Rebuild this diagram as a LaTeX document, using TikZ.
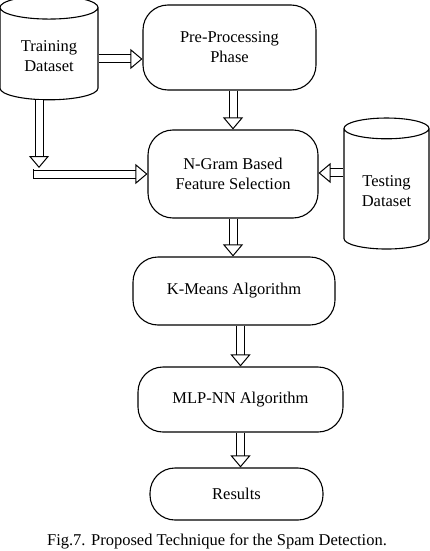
\documentclass[tikz,border=0pt]{standalone}
\usepackage{fontspec}
\setmainfont{Liberation Serif}
\usepackage{tikz}
\usetikzlibrary{positioning,arrows.meta,calc,shapes.geometric}
\tikzset{
 flowbox/.style={draw, line width=1.1pt, rounded corners=25pt, align=center},
 store/.style={draw, line width=1.1pt, cylinder, shape border rotate=90, shape aspect=0.37, align=center},
 hollow/.style={double, double distance=7pt, line width=1pt, -{Triangle[open, length=12pt, width=20pt]}},
}

\begin{document}
\begin{tikzpicture}[x=1pt, y=-1pt, font=\fontsize{16.5}{20}\selectfont]
\useasboundingbox (0,0) rectangle (430,551);
\node[store, minimum width=98pt, minimum height=104pt] (train) at (49,56) {Training\\Dataset};
\node[flowbox, minimum width=173pt, minimum height=85pt] (pre) at (229.5,47.5) {Pre-Processing\\Phase};
\node[flowbox, minimum width=170pt, minimum height=88pt] (ngram) at (233,174) {N-Gram Based\\Feature Selection};
\node[store, minimum width=85pt, minimum height=131pt] (test) at (386.5,191) {Testing\\Dataset};
\node[flowbox, minimum width=202pt, minimum height=68pt] (kmeans) at (234,291) {K-Means Algorithm};
\node[flowbox, minimum width=205pt, minimum height=65pt] (mlp) at (240.5,399.5) {MLP-NN Algorithm};
\node[flowbox, minimum width=173pt, minimum height=52pt] (res) at (236.5,494) {Results};
\node (cap) at (217,541) {Fig.7. Proposed Technique for the Spam Detection.};
\coordinate (bend) at (39,168);
\coordinate (join) at (33,174);
\draw[hollow] ([yshift=-3pt]train.center -| train.east) -- ([yshift=-3pt]train.center -| pre.west);
\draw[hollow] (pre.south -| ngram.north) -- (ngram.north);
\draw[hollow] ([xshift=-10pt]train.south) -- (bend);
\draw[hollow] (join) -- (join -| ngram.west);
\draw[line width=1pt] ([yshift=5pt]join) -- ([yshift=-5pt]join);
\draw[hollow] ([yshift=18pt]test.west) -- ([yshift=18pt]test.west -| ngram.east);
\draw[hollow] (ngram.south) -- (ngram.south |- kmeans.north);
\draw[hollow] (kmeans.south -| mlp.north) -- (mlp.north);
\draw[hollow] (mlp.south) -- (mlp.south |- res.north);
\end{tikzpicture}
\end{document}
